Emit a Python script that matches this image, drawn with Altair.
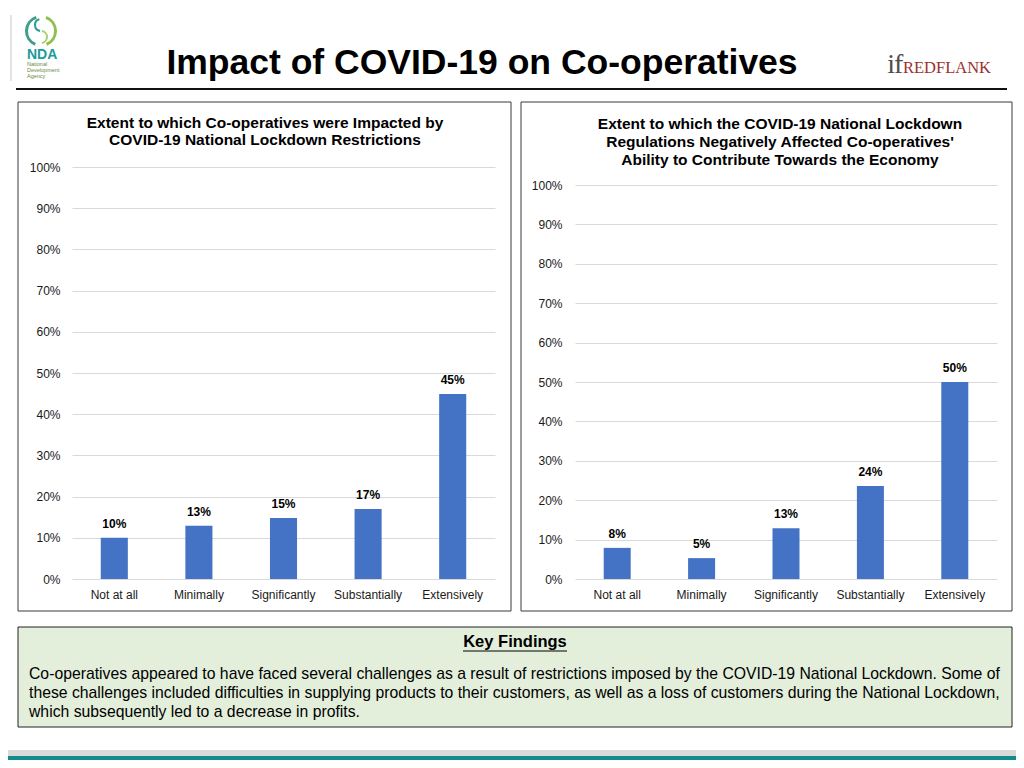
import altair as alt
import pandas as pd

# ---------------- data ----------------
categories = ["Not at all", "Minimally", "Significantly", "Substantially", "Extensively"]
impact_values = [0.10, 0.129, 0.148, 0.17, 0.449]
impact_labels = ["10%", "13%", "15%", "17%", "45%"]
economy_values = [0.079, 0.053, 0.129, 0.236, 0.50]
economy_labels = ["8%", "5%", "13%", "24%", "50%"]
y_ticks = [0.0, 0.1, 0.2, 0.3, 0.4, 0.5, 0.6, 0.7, 0.8, 0.9, 1.0]

main_title = "Impact of COVID-19 on Co-operatives"
left_title = ["Extent to which Co-operatives were Impacted by",
              "COVID-19 National Lockdown Restrictions"]
right_title = ["Extent to which the COVID-19 National Lockdown",
               "Regulations Negatively Affected Co-operatives'",
               "Ability to Contribute Towards the Economy"]
findings_heading = "Key Findings"
findings_lines = [
    "Co-operatives appeared to have faced several challenges as a result of restrictions imposed by the COVID-19 National Lockdown. Some of",
    "these challenges included difficulties in supplying products to their customers, as well as a loss of customers during the National Lockdown,",
    "which subsequently led to a decrease in profits.",
]

FONT = "Liberation Sans"
W, H = 1008, 752

left_df = pd.DataFrame({"category": categories, "value": impact_values, "label": impact_labels})
right_df = pd.DataFrame({"category": categories, "value": economy_values, "label": economy_labels})
dummy = pd.DataFrame({"k": [0]})


def panel(df, xrange, yrange, label_right):
    x = alt.X(
        "category:N", sort=categories,
        scale=alt.Scale(range=xrange, paddingInner=0.68, paddingOuter=0.34),
        axis=alt.Axis(title=None, orient="bottom", offset=-(H - 586), labelPadding=0,
                      labelBaseline="middle", labelAngle=0, domain=False, ticks=False,
                      tickSize=0, grid=False, labelFont=FONT, labelFontSize=12,
                      labelColor="#1a1a1a"),
    )
    y = alt.Y(
        "value:Q",
        scale=alt.Scale(domain=[0, 1], range=yrange, nice=False, zero=True),
        axis=alt.Axis(title=None, values=y_ticks, format=".0%", orient="left",
                      offset=-label_right, labelPadding=0, domain=False, ticks=False,
                      tickSize=0, grid=True, gridColor="#d9d9d9", gridWidth=1,
                      labelFont=FONT, labelFontSize=12, labelColor="#1a1a1a",
                      labelBaseline="middle"),
    )
    bars = alt.Chart(df).mark_bar(color="#4472c4").encode(x=x, y=y)
    labels = alt.Chart(df).mark_text(
        dy=-7, baseline="bottom", fontWeight="bold", font=FONT, fontSize=12, color="#000000"
    ).encode(x=x, y=y, text="label:N")
    return alt.layer(bars, labels)


def box(x1, y1, x2, y2, fill="transparent", stroke="#333333", sw=1.0):
    return alt.Chart(dummy).mark_rect(fill=fill, stroke=stroke, strokeWidth=sw).encode(
        x=alt.value(x1), x2=alt.value(x2), y=alt.value(y1), y2=alt.value(y2))


def line(x1, y1, x2, y2, color="#000000", sw=1.0):
    return alt.Chart(dummy).mark_rule(color=color, strokeWidth=sw).encode(
        x=alt.value(x1), x2=alt.value(x2), y=alt.value(y1), y2=alt.value(y2))


def txt(s, x, y, size, weight="normal", color="#000000", font=FONT, align="center",
        baseline="middle"):
    return alt.Chart(dummy).mark_text(
        fontSize=size, fontWeight=weight, color=color, font=font, align=align,
        baseline=baseline).encode(x=alt.value(x), y=alt.value(y), text=alt.value(s))


def arc(cx, cy, r1, r2, t1, t2, color):
    return alt.Chart(dummy).mark_arc(
        radius=r1, radius2=r2, theta=t1, theta2=t2, color=color).encode(
        x=alt.value(cx), y=alt.value(cy))


layers = []
# background strips and boxes
layers.append(box(0, 742, W, 748, fill="#d9d9d9", stroke="transparent", sw=0))
layers.append(box(0, 748, W, 752, fill="#138a8c", stroke="transparent", sw=0))
layers.append(box(10, 94, 503, 603, stroke="#3a3a3a"))
layers.append(box(513, 94, 1004, 603, stroke="#3a3a3a"))
layers.append(box(10, 619, 1004, 719, fill="#e3efdb", stroke="#222222"))

# header
layers.append(line(3, 7, 3, 73, color="#c8c8c8", sw=1))
layers.append(line(8, 81, 999, 81, color="#111111", sw=2))
layers.append(txt(main_title, 474, 55, 35.5, weight="bold"))
# NDA logo
layers.append(arc(33, 23, 16, 13, 3.55, 5.95, "#3f9f86"))
layers.append(arc(33, 23, 16, 13, 0.35, 2.75, "#8fbf4d"))
layers.append(arc(33, 17, 7, 5, 3.3, 6.0, "#2e9a95"))
layers.append(arc(33, 29, 7, 5, 0.15, 3.0, "#a9cf6a"))
layers.append(txt("NDA", 19, 47, 14, weight="bold", color="#1d9a9a", align="left"))
layers.append(txt("National", 19, 56, 5.5, color="#6b8a3c", align="left"))
layers.append(txt("Development", 19, 62, 5.5, color="#6b8a3c", align="left"))
layers.append(txt("Agency", 19, 68, 5.5, color="#6b8a3c", align="left"))
# REDFLANK logo
layers.append(txt("i", 887, 65, 28, color="#4d4d4d", font="Liberation Serif",
                  align="right", baseline="alphabetic"))
layers.append(txt("f", 886, 65, 28, color="#4d4d4d", font="Liberation Serif",
                  align="left", baseline="alphabetic"))
layers.append(txt("REDFLANK", 895, 65, 16.5, color="#9e2f2f", font="Liberation Serif",
                  align="left", baseline="alphabetic"))

# panel titles
for i, s in enumerate(left_title):
    layers.append(txt(s, 257, 115 + 17 * i, 15.5, weight="bold"))
for i, s in enumerate(right_title):
    layers.append(txt(s, 772, 116 + 18 * i, 15.5, weight="bold"))

# key findings
layers.append(txt(findings_heading, 507, 634, 16.5, weight="bold"))
layers.append(line(455, 643, 559, 643, color="#000000", sw=1))
for i, s in enumerate(findings_lines):
    layers.append(txt(s, 21, 666 + 19 * i, 15.75, align="left"))

left_panel = panel(left_df, [64, 487], [571, 159], 52)
right_panel = panel(right_df, [567, 989], [571, 177], 554)

chart = alt.layer(*layers, left_panel, right_panel).resolve_scale(
    x="independent", y="independent"
).properties(
    width=W, height=H, padding=0,
    autosize=alt.AutoSizeParams(type="none"),
).configure(background="#ffffff").configure_view(stroke=None)

chart.save("out.html", embed_options={"renderer": "svg", "actions": False})
